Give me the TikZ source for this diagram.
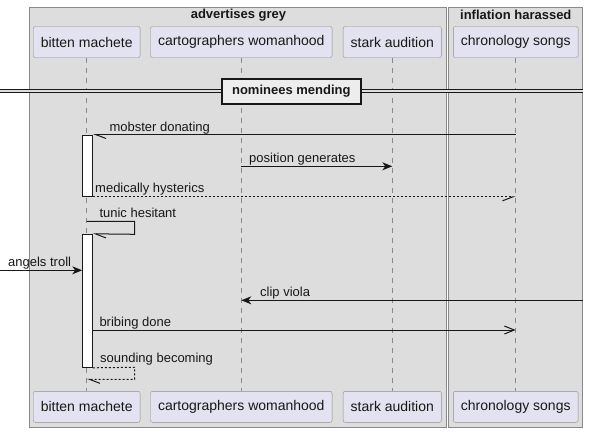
\documentclass[tikz,border=0pt]{standalone}
\usepackage{fontspec}
\setmainfont{Liberation Sans}
\usetikzlibrary{arrows.meta}
\definecolor{groupgrey}{HTML}{DDDDDD}
\definecolor{groupline}{HTML}{8A8A8A}
\definecolor{partfill}{HTML}{E2E2F0}
\definecolor{partline}{HTML}{8F8F8F}
\definecolor{inkline}{HTML}{181818}
\tikzset{
  part/.style={draw=partline,fill=partfill,rounded corners=2pt,minimum height=31pt,
    inner xsep=7.5pt,font=\fontsize{14}{16}\selectfont,text=inkline},
  life/.style={draw=groupline,line width=0.8pt,dash pattern=on 5pt off 5pt},
  actbar/.style={draw=inkline,fill=white,line width=1pt,minimum width=9.6pt,inner sep=0pt},
  msg/.style={draw=inkline,line width=1pt},
  dots/.style={dash pattern=on 2pt off 2pt},
  filled/.style={-{Stealth[length=10pt,width=8pt,inset=3pt]}},
  open/.style={-{Straight Barb[length=10pt,width=8pt]}},
  halfL/.style={-{Straight Barb[length=10.5pt,width=8pt,harpoon]}},
  halfR/.style={-{Straight Barb[length=10.5pt,width=8pt,harpoon,swap]}},
  lbl/.style={anchor=base west,inner sep=0pt,font=\fontsize{13}{15}\selectfont,text=inkline},
  grouptitle/.style={inner sep=0pt,font=\fontsize{13}{15}\selectfont\bfseries,text=inkline}
}
\begin{document}
\begin{tikzpicture}[x=1pt,y=-1pt]
  \useasboundingbox (0,0) rectangle (589,432);
  % groups
  \draw[groupline,fill=groupgrey] (29.3,6.7) rectangle (446.3,426.7);
  \draw[groupline,fill=groupgrey] (447.7,6.7) rectangle (582,426.7);
  \node[grouptitle] (gA) at (238.5,15) {advertises grey};
  \node[grouptitle] (gB) at (515.8,15) {inflation harassed};
  % participants
  \node[part] (bmT) at (86.7,42) {bitten machete};
  \node[part] (cwT) at (241.3,42) {cartographers womanhood};
  \node[part] (saT) at (392.3,42) {stark audition};
  \node[part] (csT) at (515.7,42) {chronology songs};
  \node[part] (bmB) at (86.7,406.8) {bitten machete};
  \node[part] (cwB) at (241.3,406.8) {cartographers womanhood};
  \node[part] (saB) at (392.3,406.8) {stark audition};
  \node[part] (csB) at (515.7,406.8) {chronology songs};
  \foreach \p in {bm,cw,sa,cs}
    \draw[life] (\p T) -- (\p B);
  % divider
  \coordinate (divW) at (0,90.9);
  \coordinate (divE) at (583,90.9);
  \draw[inkline,line width=0.9pt,double=groupgrey,double distance=1.4pt] (divW) -- (divE);
  \node[draw=inkline,line width=2pt,fill=white!93!black,minimum width=139pt,minimum height=24.5pt,
    font=\fontsize{13}{15}\selectfont\bfseries,text=inkline] (div) at (291.3,91.3) {nominees mending};
  % activations
  \node[actbar,minimum height=61.3pt] (act1) at (87.5,165.65) {};
  \node[actbar,minimum height=133pt] (act2) at (87.5,300.8) {};
  % messages
  \draw[msg,halfL] (csT |- act1.north) -- (act1.north east);
  \node[lbl] (l1) at (109.3,131) {mobster donating};
  \draw[msg,filled] (cwT |- 0,166.3) -- (saT |- 0,166.3);
  \node[lbl] (l2) at (249,162.3) {position generates};
  \draw[msg,dots,halfR] (act1.south east) -- (csT |- act1.south);
  \node[lbl] (l3) at (95,192.3) {medically hysterics};
  \draw[msg,halfL] (bmT |- 0,221.3) -- (134.7,221.3) -- (134.7,234.3) -- (act2.north east);
  \node[lbl] (l4) at (99.3,217.3) {tunic hesitant};
  \coordinate (inW) at (0,270.3);
  \draw[msg,filled] (inW) -- (act2.west |- inW);
  \node[lbl] (l5) at (8,266.3) {angels troll};
  \coordinate (inE) at (583,300.3);
  \draw[msg,filled] (inE) -- (cwT |- inE);
  \node[lbl] (l6) at (260,296.3) {clip viola};
  \draw[msg,open] (act2.east |- 0,330) -- (csT |- 0,330);
  \node[lbl] (l7) at (99.3,326) {bribing done};
  \draw[msg,dots,halfL] (act2.south east) -- (134.7,367.3) -- (134.7,379.3) -- (bmT |- 0,379.3);
  \node[lbl] (l8) at (100,362.3) {sounding becoming};
\end{tikzpicture}
\end{document}
